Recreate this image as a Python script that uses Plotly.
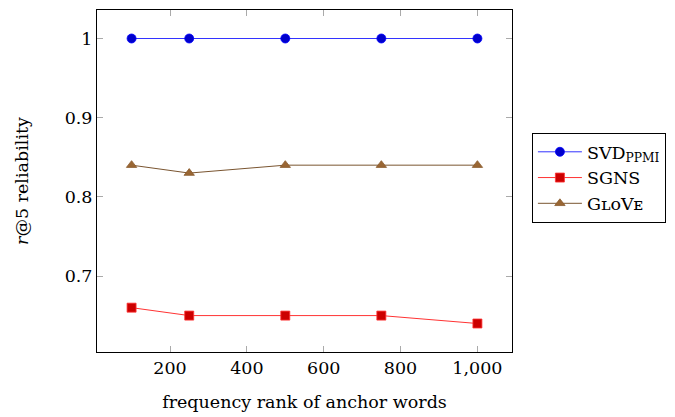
import plotly.graph_objects as go

# frequency rank of the anchor words
ranks = [100, 250, 500, 750, 1000]

# r@5 reliability per embedding method
svd_ppmi = [1.0, 1.0, 1.0, 1.0, 1.0]
sgns = [0.66, 0.65, 0.65, 0.65, 0.64]
glove = [0.84, 0.83, 0.84, 0.84, 0.84]

x_tickvals = [200, 400, 600, 800, 1000]
x_ticktext = ["200", "400", "600", "800", "1,000"]
y_tickvals = [0.7, 0.8, 0.9, 1.0]
y_ticktext = ["0.7", "0.8", "0.9", "1"]

FONT = "DejaVu Serif"
SIZE = 17.5

fig = go.Figure()
fig.add_trace(go.Scatter(
    x=ranks, y=svd_ppmi, mode="lines+markers",
    name="SVD<sub>PPMI</sub>",
    line=dict(color="#3333ff", width=1),
    marker=dict(symbol="circle", size=9, color="#0000cc",
                line=dict(color="#0000ff", width=0.8)),
))
fig.add_trace(go.Scatter(
    x=ranks, y=sgns, mode="lines+markers",
    name="SGNS",
    line=dict(color="#ff3333", width=1),
    marker=dict(symbol="square", size=9, color="#cc0000",
                line=dict(color="#ff3333", width=0.8)),
))
fig.add_trace(go.Scatter(
    x=ranks, y=glove, mode="lines+markers",
    name="G\u029f\u1d0fV\u1d07",
    line=dict(color="#7a5530", width=1),
    marker=dict(symbol="triangle-up", size=9, color="#996633",
                line=dict(color="#8a5c2e", width=0.8)),
))

axis_common = dict(
    showgrid=False, zeroline=False,
    showline=True, linecolor="black", linewidth=1, mirror="ticks",
    ticks="inside", ticklen=6, tickcolor="#aaaaaa", tickwidth=1,
    tickfont=dict(family=FONT, size=SIZE, color="black"),
)

fig.update_layout(
    width=675, height=417,
    margin=dict(l=97, r=163, t=9, b=64),
    paper_bgcolor="white", plot_bgcolor="white",
    font=dict(family=FONT, size=SIZE, color="black"),
    xaxis=dict(range=[10, 1090], tickvals=x_tickvals, ticktext=x_ticktext,
               title=dict(text="frequency rank of anchor words", standoff=18,
                          font=dict(family=FONT, size=SIZE)),
               **axis_common),
    yaxis=dict(range=[0.604, 1.036], tickvals=y_tickvals, ticktext=y_ticktext,
               title=dict(text="<i>r</i>@5 reliability", standoff=31,
                          font=dict(family=FONT, size=SIZE)),
               **axis_common),
    legend=dict(x=1.048, y=0.509, xanchor="left", yanchor="middle",
                bordercolor="black", borderwidth=1, bgcolor="white",
                font=dict(family=FONT, size=SIZE), itemwidth=44,
                tracegroupgap=0),
    showlegend=True,
)

fig.write_html("out.html")
